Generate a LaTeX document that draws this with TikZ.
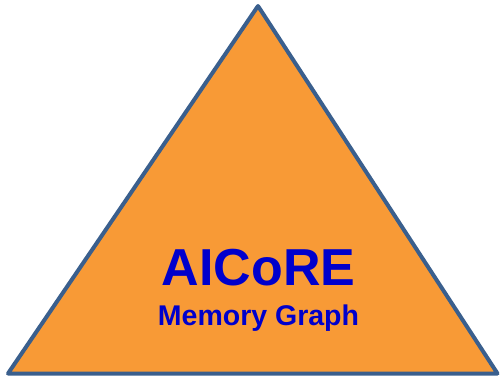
\documentclass[tikz,border=0pt]{standalone}
\usepackage{fontspec}
\setmainfont{Liberation Sans}
\definecolor{triFill}{HTML}{F89A36}
\definecolor{triLine}{HTML}{3A5F8D}
\definecolor{txtBlue}{HTML}{0000CC}
\begin{document}
\begin{tikzpicture}[x=1pt,y=-1pt,
  tri/.style={fill=triFill,draw=triLine,line width=4pt,line join=round},
  title/.style={text=txtBlue,font=\fontsize{52}{56}\selectfont\bfseries,anchor=base,inner sep=0pt},
  subtitle/.style={text=txtBlue,font=\fontsize{28.5}{32}\selectfont\bfseries,anchor=base,inner sep=0pt}]
\useasboundingbox (0,0) rectangle (503,376);
\coordinate (apex) at (258,6);
\coordinate (bl) at (8,373.5);
\coordinate (br) at (497.5,373.5);
\draw[tri] (apex) -- (br) -- (bl) -- cycle;
\node[title] (t1) at (258.5,285.5) {AICoRE};
\node[subtitle] (t2) at (258.5,325) {Memory Graph};
\end{tikzpicture}
\end{document}
